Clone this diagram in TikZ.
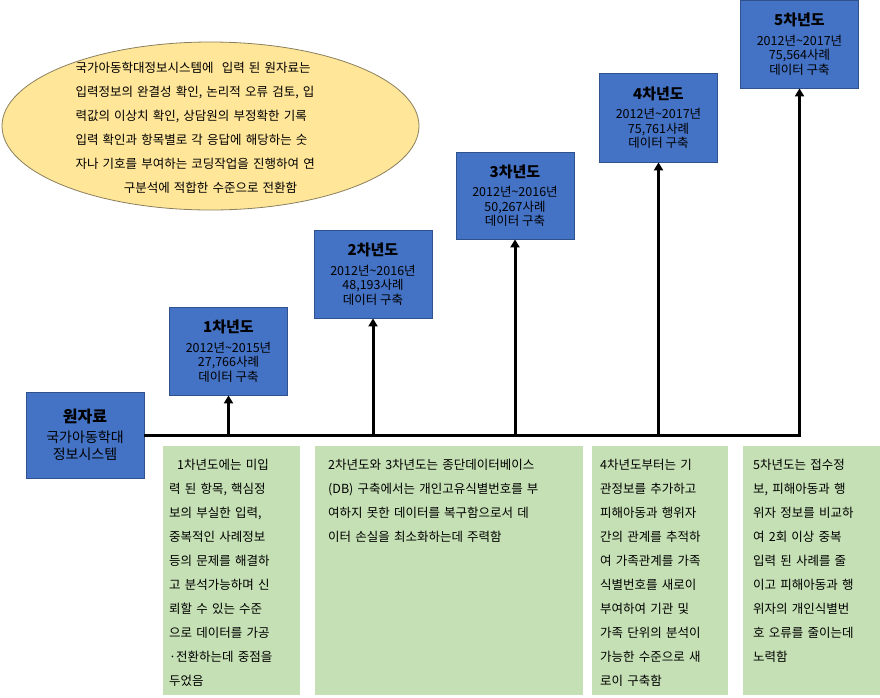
\documentclass[tikz,border=0pt]{standalone}
\usepackage{fontspec}
\setmainfont{Noto Sans CJK KR}
\usetikzlibrary{arrows.meta,shapes.geometric}
\definecolor{boxblue}{HTML}{4472C4}
\definecolor{boxborder}{HTML}{2F528F}
\definecolor{boxgreen}{HTML}{C5E0B4}
\definecolor{ellfill}{HTML}{FFE699}
\definecolor{elldraw}{HTML}{8A7F5C}
\newcommand\jline[1]{\makebox[\linewidth][s]{#1}}
\newcommand\yrttl[1]{{\fontsize{15}{18}\selectfont\bfseries #1}}
\begin{document}
\begin{tikzpicture}[x=1pt,y=-1pt,
  bluebox/.style={draw=boxborder, fill=boxblue, line width=0.8pt, minimum width=118pt, minimum height=88pt, inner sep=0pt, align=center, text=black, font=\fontsize{12.5}{14.5}\selectfont},
  gbox/.style={fill=boxgreen, inner sep=0pt, anchor=north west, minimum height=249pt},
  gtext/.style={anchor=north west, inner sep=0pt, align=left, font=\fontsize{12.5}{24}\selectfont},
  tline/.style={line width=3pt},
  arr/.style={line width=3pt, -{Triangle[width=9pt,length=8pt]}}]
\useasboundingbox (0,0) rectangle (880,697);

% ellipse
\node[ellipse, draw=elldraw, fill=ellfill, line width=0.8pt, minimum width=417pt, minimum height=168pt, inner sep=0pt] (e) at (210.5,126) {};
\node[anchor=north, inner sep=0pt, text width=270pt, align=center, font=\fontsize{12.5}{24}\selectfont] (et) at (210.5,61.5) {%
\jline{국가아동학대정보시스템에 \ 입력 된 원자료는}\\
\jline{입력정보의 완결성 확인, 논리적 오류 검토, 입}\\
\jline{력값의 이상치 확인, 상담원의 부정확한 기록}\\
\jline{입력 확인과 항목별로 각 응답에 해당하는 숫}\\
\jline{자나 기호를 부여하는 코딩작업을 진행하여 연}\\
구분석에 적합한 수준으로 전환함};

% raw data box
\node[bluebox, minimum height=86pt, font=\fontsize{14}{17.5}\selectfont] (raw) at (85,435) {{\fontsize{16}{19}\selectfont\bfseries 원자료}\\[2pt]국가아동학대\\정보시스템};

% year boxes
\node[bluebox] (y1) at (228.5,351) {\yrttl{1차년도}\\[5pt]2012년\textasciitilde 2015년\\27,766사례\\데이터 구축};
\node[bluebox] (y2) at (373,274) {\yrttl{2차년도}\\[5pt]2012년\textasciitilde 2016년\\48,193사례\\데이터 구축};
\node[bluebox, minimum height=87pt] (y3) at (515,195.5) {\yrttl{3차년도}\\[5pt]2012년\textasciitilde 2016년\\50,267사례\\데이터 구축};
\node[bluebox, minimum height=89pt] (y4) at (658.5,117.5) {\yrttl{4차년도}\\[5pt]2012년\textasciitilde 2017년\\75,761사례\\데이터 구축};
\node[bluebox] (y5) at (799.5,44) {\yrttl{5차년도}\\[5pt]2012년\textasciitilde 2017년\\75,564사례\\데이터 구축};

% timeline
\coordinate (c1) at (228.5,435);
\coordinate (c2) at (373,435);
\coordinate (c3) at (515,435);
\coordinate (c4) at (658.5,435);
\coordinate (c5) at (799.5,435);
\draw[tline] (raw.east) -- ([xshift=1.5pt]c5);
\draw[arr] (c1) -- (y1.south);
\draw[arr] (c2) -- (y2.south);
\draw[arr] (c3) -- (y3.south);
\draw[arr] (c4) -- (y4.south);
\draw[arr] (c5) -- (y5.south);

% green boxes
\node[gbox, minimum width=137pt] (g1) at (163,446) {};
\node[gbox, minimum width=268pt] (g2) at (315,446) {};
\node[gbox, minimum width=136pt] (g4) at (592,446) {};
\node[gbox, minimum width=137pt] (g5) at (743,446) {};

\node[gtext, text width=119pt] (g1t) at (169,459) {%
\jline{\hspace*{8pt}1차년도에는 미입}\\
\jline{력 된 항목, 핵심정}\\
\jline{보의 부실한 입력,}\\
\jline{중복적인 사례정보}\\
\jline{등의 문제를 해결하}\\
\jline{고 분석가능하며 신}\\
\jline{뢰할 수 있는 수준}\\
\jline{으로 데이터를 가공}\\
\jline{·전환하는데 중점을}\\
두었음};

\node[gtext, text width=230pt] (g2t) at (328,459) {%
\jline{2차년도와 3차년도는 종단데이터베이스}\\
\jline{(DB) 구축에서는 개인고유식별번호를 부}\\
\jline{여하지 못한 데이터를 복구함으로서 데}\\
이터 손실을 최소화하는데 주력함};

\node[gtext, text width=107pt] (g4t) at (600,459) {%
\jline{4차년도부터는 기}\\
\jline{관정보를 추가하고}\\
\jline{피해아동과 행위자}\\
\jline{간의 관계를 추적하}\\
\jline{여 가족관계를 가족}\\
\jline{식별번호를 새로이}\\
\jline{부여하여 기관 및}\\
\jline{가족 단위의 분석이}\\
\jline{가능한 수준으로 새}\\
로이 구축함};

\node[gtext, text width=104pt] (g5t) at (753,459) {%
\jline{5차년도는 접수정}\\
\jline{보, 피해아동과 행}\\
\jline{위자 정보를 비교하}\\
\jline{여 2회 이상 중복}\\
\jline{입력 된 사례를 줄}\\
\jline{이고 피해아동과 행}\\
\jline{위자의 개인식별번}\\
\jline{호 오류를 줄이는데}\\
노력함};
\end{tikzpicture}
\end{document}
